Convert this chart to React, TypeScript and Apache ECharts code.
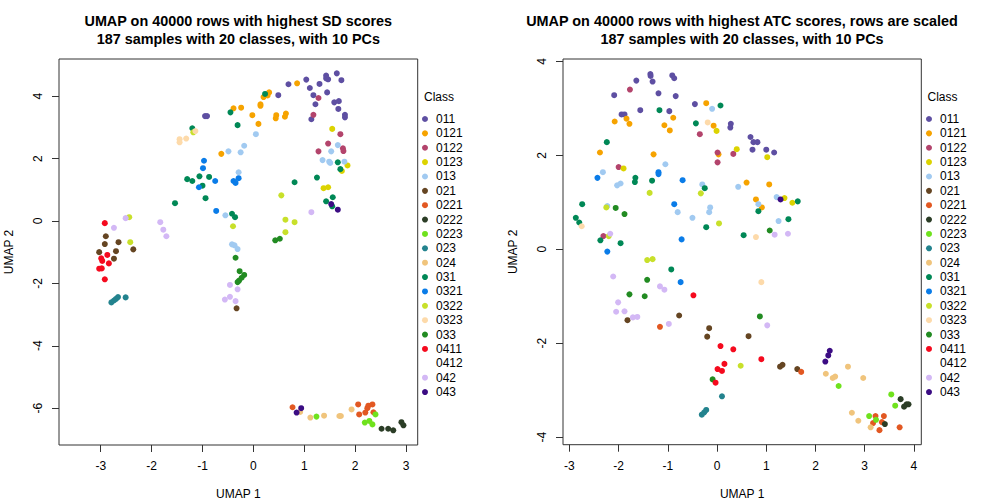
import React, { useEffect, useRef } from "react";
import * as echarts from "echarts";

const CLASSES = ["011", "0121", "0122", "0123", "013", "021", "0221", "0222", "0223", "023", "024", "031", "0321", "0322", "0323", "033", "0411", "0412", "042", "043"];
const COLORS = ["#5E4FA2", "#F6A300", "#B3446C", "#DCD300", "#A1CAF1", "#654522", "#E25822", "#2B3D26", "#6FE21D", "#23838E", "#F0C47C", "#008856", "#0A7CE8", "#C8E02A", "#FDDAAA", "#228B22", "#F50A1E", "#FFFFFF", "#D3B8F5", "#3B0C83"];

const TITLE_SD = ["UMAP on 40000 rows with highest SD scores", "187 samples with 20 classes, with 10 PCs"];
const TITLE_ATC = ["UMAP on 40000 rows with highest ATC scores, rows are scaled", "187 samples with 20 classes, with 10 PCs"];

const SD_X_TICKS = [-3, -2, -1, 0, 1, 2, 3];
const SD_Y_TICKS = [-6, -4, -2, 0, 2, 4];
const ATC_X_TICKS = [-3, -2, -1, 0, 1, 2, 3, 4];
const ATC_Y_TICKS = [-4, -2, 0, 2, 4];

// ---- SD panel ----
const sd011 = [[-0.95, 3.36], [-0.91, 3.36], [0.69, 4.38], [0.49, 4.03], [1.04, 4.53], [1.11, 4.26], [1.18, 4.03], [1.22, 3.74], [1.14, 3.26], [1.3, 4.39], [1.43, 4.66], [1.47, 4.54], [1.43, 4.57], [1.64, 4.73], [1.73, 4.51], [1.45, 4.12], [1.59, 3.8], [1.68, 3.84], [1.67, 3.59], [1.8, 3.4], [1.8, 3.32]];
const sd0121 = [[-0.39, 3.61], [-0.24, 3.63], [-0.63, 2.15], [-0.02, 3.39], [0.1, 3.11], [0.14, 3.74], [0.14, 3.69], [0.2, 3.97], [0.28, 4.02], [0.31, 4.12], [0.44, 3.29], [0.45, 3.39], [0.62, 3.34], [0.64, 3.44], [0.86, 4.41]];
const sd0122 = [[1.28, 3.94], [1.18, 3.4], [1.71, 2.78], [1.47, 2.48], [1.28, 2.23], [1.76, 2.33], [1.77, 2.24]];
const sd0123 = [[1.55, 2.95], [1.85, 1.78], [1.74, 1.6], [1.38, 1.05], [1.47, 1.08]];
const sd013 = [[-0.49, 2.23], [-0.25, 2.2], [-0.18, 2.41], [-0.29, 1.56], [-0.55, 0.18], [-0.42, -0.75], [-0.37, -0.78], [-0.31, -0.9], [1.66, 2.43], [1.53, 2.23], [1.36, 1.95], [1.49, 1.9], [1.51, 1.86], [1.79, 1.9], [0.05, 2.78]];
const sd021 = [[-2.9, -0.49], [-2.92, -0.74], [-2.65, -0.68], [-2.36, -0.91], [-3.03, -1.0], [-2.7, -0.97], [-2.74, -1.21], [-0.33, -2.8]];
const sd0221 = [[0.77, -5.97], [2.06, -5.88], [2.26, -5.92], [2.34, -5.88], [2.24, -6.0], [2.08, -6.2], [2.2, -6.14], [2.36, -6.13]];
const sd0222 = [[2.52, -6.66], [2.65, -6.66], [2.75, -6.71], [2.91, -6.45], [2.95, -6.55]];
const sd0223 = [[1.24, -6.27], [2.4, -6.2], [2.19, -6.46], [2.28, -6.41], [2.34, -6.52]];
const sd023 = [[-2.79, -2.61], [-2.74, -2.55], [-2.7, -2.5], [-2.66, -2.44], [-2.51, -2.45]];
const sd024 = [[0.92, -6.12], [1.12, -6.3], [1.39, -6.24], [1.72, -6.25], [1.69, -6.25], [1.93, -6.04]];
const sd031 = [[-0.45, 3.48], [-0.31, 3.07], [-1.2, 2.97], [-1.3, 1.34], [-1.2, 1.28], [-1.06, 1.43], [-0.87, 1.41], [-1.0, 1.13], [-0.94, 0.73], [-1.54, 0.57], [-0.42, 0.23], [-0.36, 0.12], [0.23, 4.07], [1.66, 1.88], [1.71, 1.66], [0.81, 1.24], [1.25, 1.39], [1.56, 0.76], [1.43, 0.63], [1.55, 0.47]];
const sd0321 = [[-0.97, 1.93], [-0.99, 1.69], [-0.29, 1.37], [-0.39, 1.28], [-0.35, 1.22], [-0.75, 1.28], [-1.07, 1.08], [-0.73, 0.32]];
const sd0322 = [[-1.18, 2.84], [-0.4, -0.17], [-2.44, 0.12], [-2.42, -0.68], [0.55, 0.82], [0.63, 0.04], [0.81, -0.04], [0.63, -0.36]];
const sd0323 = [[-1.14, 2.88], [-1.45, 2.62], [-1.45, 2.52], [-1.32, 2.64]];
const sd033 = [[-0.35, -1.18], [-0.27, -1.61], [-0.18, -1.73], [-0.23, -1.82], [-0.28, -1.91], [-0.31, -1.96], [0.43, -0.62], [0.52, -0.57]];
const sd0411 = [[-2.92, -0.07], [-2.87, -1.09], [-2.99, -1.2], [-2.97, -1.28], [-2.84, -1.36], [-3.03, -1.53], [-2.98, -1.52], [-2.92, -1.87]];
const sd0412: number[][] = [];
const sd042 = [[-2.74, -0.22], [-2.51, 0.09], [-1.83, -0.04], [-1.77, -0.28], [-1.71, -0.49], [-0.46, -2.05], [-0.31, -2.19], [-0.46, -2.43], [-0.56, -2.52], [-0.35, -2.57], [1.14, 0.28]];
const sd043 = [[1.53, 0.54], [1.66, 0.36], [0.94, -6.0], [0.85, -6.14]];

// ---- ATC panel ----
const atc011 = [[-1.355, 3.73], [-1.35, 3.69], [-1.31, 3.57], [-1.64, 3.59], [-0.91, 3.7], [-0.87, 3.64], [-2.09, 3.28], [-1.19, 3.32], [-0.84, 3.26], [-1.56, 2.96], [-1.94, 2.87], [-1.88, 2.87], [-0.97, 2.94], [-0.45, 3.09], [0.28, 2.67], [0.27, 2.59], [0.68, 2.39], [0.74, 2.28], [0.82, 2.28], [0.72, 2.12], [1.0, 2.12], [1.16, 2.06]];
const atc0121 = [[-2.08, 2.72], [-1.84, 2.78], [-1.78, 2.67], [-2.38, 2.06], [-1.29, 2.02], [-1.07, 2.64], [-0.96, 2.53], [-0.89, 2.8], [-0.22, 3.11], [-0.07, 2.63], [0.03, 2.02], [0.6, 1.42], [1.06, 1.38], [0.79, 1.06], [0.91, 0.89]];
const atc0122 = [[-1.77, 3.4], [-0.35, 2.45], [0.01, 2.06], [0.01, 1.85], [0.33, 2.03], [-2.0, 1.75], [-2.31, 0.28]];
const atc0123 = [[-0.01, 2.52], [0.4, 2.13], [1.02, 1.96], [-1.9, 1.72], [1.37, 1.09], [1.53, 0.99]];
const atc013 = [[-0.1, 2.99], [-1.05, 1.81], [-2.32, 1.64], [-2.03, 1.36], [-1.96, 1.4], [-0.3, 1.38], [0.43, 1.33], [-2.23, 0.92], [-0.8, 0.79], [-0.5, 0.67], [-0.14, 0.89], [-0.16, 0.79], [0.84, 0.96], [1.21, 1.11], [1.25, 0.6]];
const atc021 = [[-1.82, -1.51], [-0.77, -1.41], [-0.16, -1.68], [-0.2, -1.86], [0.64, -1.85], [1.28, -2.5], [1.33, -2.46], [1.63, -2.55]];
const atc0221 = [[-1.16, -1.65], [1.71, -2.61], [3.22, -3.55], [3.39, -3.55], [3.17, -3.7], [3.35, -3.68], [3.3, -3.85], [3.71, -3.79]];
const atc0222 = [[3.73, -3.19], [3.85, -3.3], [3.89, -3.3], [3.8, -3.35], [3.41, -3.72]];
const atc0223 = [[2.47, -2.91], [3.54, -3.09], [3.62, -3.33], [3.09, -3.55], [3.23, -3.63]];
const atc023 = [[0.1, -3.13], [-0.31, -3.52], [-0.26, -3.47], [-0.22, -3.42]];
const atc024 = [[2.21, -2.65], [2.35, -2.74], [2.4, -2.71], [2.66, -2.5], [2.97, -2.74], [2.74, -3.48], [2.87, -3.65], [3.12, -3.79]];
const atc031 = [[0.07, 3.06], [-1.17, 2.96], [-0.43, 2.68], [-2.24, 2.28], [-1.66, 1.52], [-1.67, 1.43], [-1.32, 1.46], [-0.25, 1.3], [-2.74, 0.96], [-2.87, 0.67], [-2.8, 0.57], [-2.37, 0.19], [-1.96, 0.13], [-0.22, 0.47], [0.54, 0.3], [0.84, 0.81], [1.45, 0.64], [1.64, 1.02], [-0.93, -0.43]];
const atc0321 = [[-2.43, 1.52], [-1.19, 1.64], [-1.19, 1.6], [-0.7, 1.47], [-0.87, 0.96], [-0.72, 0.21], [-2.23, -0.05], [-0.74, -0.7]];
const atc0322 = [[-2.25, 0.89], [-2.2, 0.28], [-1.37, 1.2], [-0.33, 1.19], [0.04, 0.55], [-1.42, -0.23], [-1.31, -0.21], [0.48, -2.48]];
const atc0323 = [[-0.19, 2.7], [-2.75, 0.49], [0.79, 0.26], [0.9, -0.7]];
const atc033 = [[-2.06, 0.88], [-1.88, 0.75], [-1.42, -0.65], [-1.78, -0.96], [-1.47, -1.0], [1.07, 0.4], [0.87, -1.43], [-0.09, -2.77]];
const atc0411 = [[-0.48, -0.98], [0.07, -2.06], [0.33, -2.13], [0.9, -2.34], [0.15, -2.44], [0.01, -2.55], [0.1, -2.59], [-0.03, -2.84]];
const atc0412: number[][] = [];
const atc042 = [[-2.17, 0.33], [-2.11, -0.58], [-2.01, -1.13], [-2.05, -1.33], [-1.88, -1.32], [-1.71, -1.45], [-1.62, -1.44], [-1.16, -0.79], [-1.07, -0.86], [-0.98, -1.59], [1.02, -1.62], [1.17, 0.31], [1.44, 0.33]];
const atc043 = [[1.29, 1.06], [2.2, -2.39], [2.26, -2.26], [2.29, -2.16]];

const SD_DATA = [sd011, sd0121, sd0122, sd0123, sd013, sd021, sd0221, sd0222, sd0223, sd023, sd024, sd031, sd0321, sd0322, sd0323, sd033, sd0411, sd0412, sd042, sd043];
const ATC_DATA = [atc011, atc0121, atc0122, atc0123, atc013, atc021, atc0221, atc0222, atc0223, atc023, atc024, atc031, atc0321, atc0322, atc0323, atc033, atc0411, atc0412, atc042, atc043];

const FONT = "'Liberation Sans', Arial, Helvetica, sans-serif";

function makeAxis(gridIndex: number, min: number, max: number, ticks: number[], name: string, isY: boolean) {
  return {
    gridIndex,
    type: "value",
    min,
    max,
    name,
    nameLocation: "middle",
    nameGap: isY ? 44 : 43,
    nameTextStyle: { fontSize: 12, color: "#000", fontFamily: FONT },
    splitLine: { show: false },
    axisLine: { show: false, onZero: false },
    axisTick: { show: true, length: 7, inside: false, customValues: ticks, lineStyle: { color: "#333", width: 1 } },
    axisLabel: {
      customValues: ticks,
      fontSize: 12,
      color: "#000",
      fontFamily: FONT,
      margin: 15,
      rotate: isY ? 90 : 0,
      formatter: (v: number) => String(v),
    },
  };
}

export default function App() {
  const ref = useRef<HTMLDivElement>(null);
  useEffect(() => {
    if (!ref.current) return;
    const chart = echarts.init(ref.current, null, { renderer: "svg" });
    const series: any[] = [];
    CLASSES.forEach((c, i) => {
      series.push({
        type: "scatter",
        name: c,
        xAxisIndex: 0,
        yAxisIndex: 0,
        data: SD_DATA[i],
        symbol: "circle",
        symbolSize: 6,
        itemStyle: { color: COLORS[i], opacity: 1 },
        silent: true,
        emphasis: { disabled: true },
      });
      series.push({
        type: "scatter",
        name: c,
        xAxisIndex: 1,
        yAxisIndex: 1,
        data: ATC_DATA[i],
        symbol: "circle",
        symbolSize: 6,
        itemStyle: { color: COLORS[i], opacity: 1 },
        silent: true,
        emphasis: { disabled: true },
      });
    });
    const legendBase = {
      data: CLASSES,
      orient: "vertical",
      top: 113,
      itemWidth: 12,
      itemHeight: 6,
      itemGap: 2.37,
      icon: "circle",
      padding: 0,
      selectedMode: false,
      textStyle: { fontSize: 12, color: "#000", fontFamily: FONT, lineHeight: 12 },
    };
    const titleText = (lines: string[], cx: number) =>
      lines.map((t, k) => ({
        type: "text",
        x: cx,
        y: 21 + k * 18,
        style: { text: t, fill: "#000", font: `bold 14.4px ${FONT}`, textAlign: "center", textVerticalAlign: "middle" },
      }));
    const option: any = {
      animation: false,
      textStyle: { fontFamily: FONT },
      grid: [
        { left: 59, top: 59, width: 358.7, height: 386, show: true, borderColor: "#333", borderWidth: 1, backgroundColor: "transparent", outerBoundsMode: "none" },
        { left: 563, top: 59, width: 358.3, height: 385.7, show: true, borderColor: "#333", borderWidth: 1, backgroundColor: "transparent", outerBoundsMode: "none" },
      ],
      xAxis: [
        makeAxis(0, -3.82, 3.23, SD_X_TICKS, "UMAP 1", false),
        makeAxis(1, -3.13, 4.15, ATC_X_TICKS, "UMAP 1", false),
      ],
      yAxis: [
        makeAxis(0, -7.18, 5.19, SD_Y_TICKS, "UMAP 2", true),
        makeAxis(1, -4.16, 4.05, ATC_Y_TICKS, "UMAP 2", true),
      ],
      legend: [
        { ...legendBase, left: 422 },
        { ...legendBase, left: 926 },
      ],
      graphic: [
        ...titleText(TITLE_SD, 238.3),
        ...titleText(TITLE_ATC, 742),
        { type: "text", x: 424, y: 97, style: { text: "Class", fill: "#000", font: `12px ${FONT}`, textVerticalAlign: "middle" } },
        { type: "text", x: 927.5, y: 97, style: { text: "Class", fill: "#000", font: `12px ${FONT}`, textVerticalAlign: "middle" } },
      ],
      series,
    };
    chart.setOption(option);
    return () => chart.dispose();
  }, []);
  return <div ref={ref} style={{ position: "fixed", left: 0, top: 0, width: 1008, height: 504, background: "#fff" }} />;
}
